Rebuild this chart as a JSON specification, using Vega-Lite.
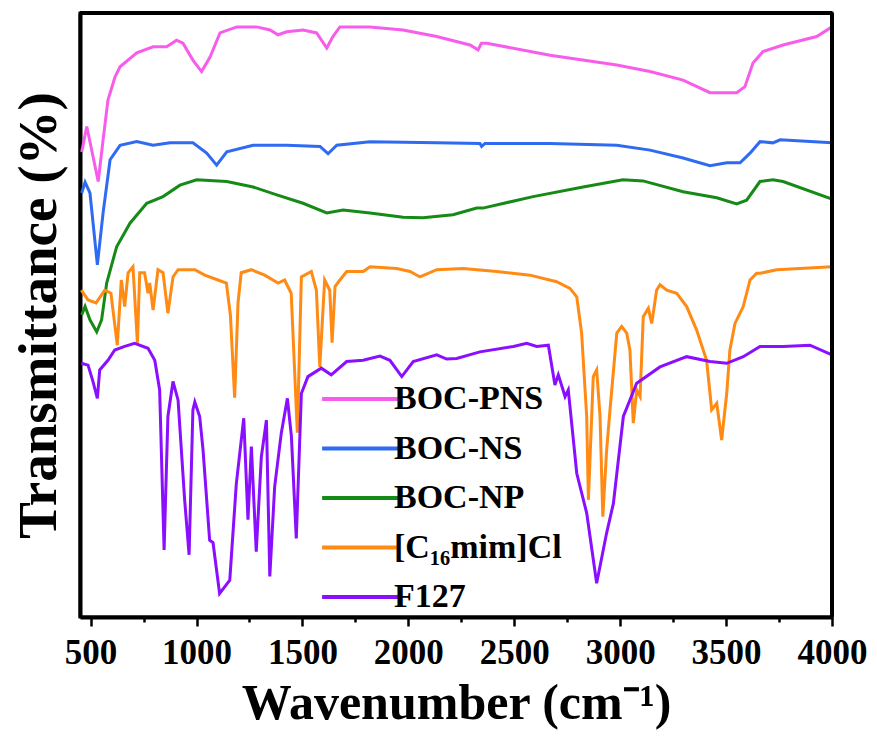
{
  "$schema": "https://vega.github.io/schema/vega-lite/v6.json",
  "width": 752,
  "height": 604,
  "autosize": "none",
  "padding": {"left": 80, "top": 13, "right": 45, "bottom": 123},
  "background": "white",
  "config": {
    "view": {"stroke": "black", "strokeWidth": 3},
    "font": "Liberation Serif"
  },
  "datasets": {
    "ftir": [
      {"s":"BOC-PNS","w":458,"t":77.0},{"s":"BOC-PNS","w":482,"t":81.2},{"s":"BOC-PNS","w":536,"t":72.1},{"s":"BOC-PNS","w":559,"t":79.0},{"s":"BOC-PNS","w":582,"t":85.6},{"s":"BOC-PNS","w":615,"t":89.4},{"s":"BOC-PNS","w":639,"t":91.1},{"s":"BOC-PNS","w":718,"t":93.4},{"s":"BOC-PNS","w":795,"t":94.4},{"s":"BOC-PNS","w":859,"t":94.4},{"s":"BOC-PNS","w":906,"t":95.5},{"s":"BOC-PNS","w":936,"t":95.0},{"s":"BOC-PNS","w":983,"t":92.2},{"s":"BOC-PNS","w":1024,"t":90.3},{"s":"BOC-PNS","w":1064,"t":92.7},{"s":"BOC-PNS","w":1111,"t":96.7},{"s":"BOC-PNS","w":1190,"t":97.7},{"s":"BOC-PNS","w":1284,"t":97.7},{"s":"BOC-PNS","w":1347,"t":97.2},{"s":"BOC-PNS","w":1385,"t":96.4},{"s":"BOC-PNS","w":1426,"t":96.9},{"s":"BOC-PNS","w":1503,"t":97.2},{"s":"BOC-PNS","w":1567,"t":96.7},{"s":"BOC-PNS","w":1615,"t":94.2},{"s":"BOC-PNS","w":1644,"t":96.1},{"s":"BOC-PNS","w":1677,"t":97.7},{"s":"BOC-PNS","w":1819,"t":97.7},{"s":"BOC-PNS","w":1975,"t":97.2},{"s":"BOC-PNS","w":2134,"t":96.1},{"s":"BOC-PNS","w":2291,"t":94.7},{"s":"BOC-PNS","w":2329,"t":93.9},{"s":"BOC-PNS","w":2345,"t":95.0},{"s":"BOC-PNS","w":2370,"t":95.0},{"s":"BOC-PNS","w":2669,"t":93.0},{"s":"BOC-PNS","w":2984,"t":91.4},{"s":"BOC-PNS","w":3141,"t":90.3},{"s":"BOC-PNS","w":3297,"t":88.9},{"s":"BOC-PNS","w":3424,"t":86.8},{"s":"BOC-PNS","w":3550,"t":86.8},{"s":"BOC-PNS","w":3589,"t":87.8},{"s":"BOC-PNS","w":3627,"t":91.7},{"s":"BOC-PNS","w":3674,"t":93.6},{"s":"BOC-PNS","w":3769,"t":94.7},{"s":"BOC-PNS","w":3928,"t":96.1},{"s":"BOC-PNS","w":4000,"t":97.7},

      {"s":"BOC-NS","w":458,"t":70.2},{"s":"BOC-NS","w":474,"t":72.0},{"s":"BOC-NS","w":497,"t":70.2},{"s":"BOC-NS","w":532,"t":58.3},{"s":"BOC-NS","w":559,"t":66.9},{"s":"BOC-NS","w":592,"t":75.7},{"s":"BOC-NS","w":639,"t":78.1},{"s":"BOC-NS","w":718,"t":78.7},{"s":"BOC-NS","w":795,"t":78.1},{"s":"BOC-NS","w":875,"t":78.5},{"s":"BOC-NS","w":983,"t":78.5},{"s":"BOC-NS","w":1048,"t":76.8},{"s":"BOC-NS","w":1095,"t":74.8},{"s":"BOC-NS","w":1143,"t":77.0},{"s":"BOC-NS","w":1267,"t":78.1},{"s":"BOC-NS","w":1426,"t":78.1},{"s":"BOC-NS","w":1583,"t":77.9},{"s":"BOC-NS","w":1621,"t":76.7},{"s":"BOC-NS","w":1662,"t":78.1},{"s":"BOC-NS","w":1819,"t":78.7},{"s":"BOC-NS","w":2134,"t":78.5},{"s":"BOC-NS","w":2338,"t":78.4},{"s":"BOC-NS","w":2346,"t":77.9},{"s":"BOC-NS","w":2362,"t":78.4},{"s":"BOC-NS","w":2669,"t":78.4},{"s":"BOC-NS","w":2984,"t":78.1},{"s":"BOC-NS","w":3141,"t":77.3},{"s":"BOC-NS","w":3297,"t":76.0},{"s":"BOC-NS","w":3424,"t":74.7},{"s":"BOC-NS","w":3503,"t":75.2},{"s":"BOC-NS","w":3566,"t":75.2},{"s":"BOC-NS","w":3613,"t":76.8},{"s":"BOC-NS","w":3660,"t":78.7},{"s":"BOC-NS","w":3721,"t":78.5},{"s":"BOC-NS","w":3755,"t":79.0},{"s":"BOC-NS","w":4000,"t":78.5},

      {"s":"BOC-NP","w":458,"t":50.0},{"s":"BOC-NP","w":474,"t":51.4},{"s":"BOC-NP","w":497,"t":49.2},{"s":"BOC-NP","w":529,"t":47.2},{"s":"BOC-NP","w":552,"t":49.2},{"s":"BOC-NP","w":576,"t":55.3},{"s":"BOC-NP","w":623,"t":61.3},{"s":"BOC-NP","w":686,"t":65.2},{"s":"BOC-NP","w":765,"t":68.5},{"s":"BOC-NP","w":842,"t":69.6},{"s":"BOC-NP","w":922,"t":71.5},{"s":"BOC-NP","w":1001,"t":72.4},{"s":"BOC-NP","w":1143,"t":72.1},{"s":"BOC-NP","w":1267,"t":71.2},{"s":"BOC-NP","w":1379,"t":69.9},{"s":"BOC-NP","w":1503,"t":68.5},{"s":"BOC-NP","w":1615,"t":66.9},{"s":"BOC-NP","w":1692,"t":67.4},{"s":"BOC-NP","w":1819,"t":66.9},{"s":"BOC-NP","w":1975,"t":66.2},{"s":"BOC-NP","w":2069,"t":66.1},{"s":"BOC-NP","w":2211,"t":66.6},{"s":"BOC-NP","w":2323,"t":67.7},{"s":"BOC-NP","w":2352,"t":67.7},{"s":"BOC-NP","w":2589,"t":69.6},{"s":"BOC-NP","w":2825,"t":71.2},{"s":"BOC-NP","w":3013,"t":72.4},{"s":"BOC-NP","w":3108,"t":72.2},{"s":"BOC-NP","w":3297,"t":70.4},{"s":"BOC-NP","w":3456,"t":69.4},{"s":"BOC-NP","w":3550,"t":68.4},{"s":"BOC-NP","w":3597,"t":69.0},{"s":"BOC-NP","w":3660,"t":72.1},{"s":"BOC-NP","w":3721,"t":72.4},{"s":"BOC-NP","w":3769,"t":72.1},{"s":"BOC-NP","w":4000,"t":69.2},

      {"s":"[C₁₆mim]Cl","w":456,"t":54.1},{"s":"[C₁₆mim]Cl","w":488,"t":52.5},{"s":"[C₁₆mim]Cl","w":526,"t":52.0},{"s":"[C₁₆mim]Cl","w":567,"t":54.1},{"s":"[C₁₆mim]Cl","w":596,"t":53.6},{"s":"[C₁₆mim]Cl","w":626,"t":45.0},{"s":"[C₁₆mim]Cl","w":645,"t":55.8},{"s":"[C₁₆mim]Cl","w":661,"t":51.4},{"s":"[C₁₆mim]Cl","w":677,"t":57.0},{"s":"[C₁₆mim]Cl","w":700,"t":58.0},{"s":"[C₁₆mim]Cl","w":721,"t":45.4},{"s":"[C₁₆mim]Cl","w":732,"t":57.0},{"s":"[C₁₆mim]Cl","w":755,"t":57.0},{"s":"[C₁₆mim]Cl","w":771,"t":53.6},{"s":"[C₁₆mim]Cl","w":779,"t":55.3},{"s":"[C₁₆mim]Cl","w":795,"t":50.8},{"s":"[C₁₆mim]Cl","w":818,"t":57.5},{"s":"[C₁₆mim]Cl","w":842,"t":57.0},{"s":"[C₁₆mim]Cl","w":865,"t":50.3},{"s":"[C₁₆mim]Cl","w":889,"t":56.3},{"s":"[C₁₆mim]Cl","w":913,"t":57.5},{"s":"[C₁₆mim]Cl","w":992,"t":57.5},{"s":"[C₁₆mim]Cl","w":1039,"t":56.6},{"s":"[C₁₆mim]Cl","w":1101,"t":55.8},{"s":"[C₁₆mim]Cl","w":1141,"t":55.3},{"s":"[C₁₆mim]Cl","w":1160,"t":50.0},{"s":"[C₁₆mim]Cl","w":1180,"t":36.3},{"s":"[C₁₆mim]Cl","w":1196,"t":52.0},{"s":"[C₁₆mim]Cl","w":1211,"t":57.0},{"s":"[C₁₆mim]Cl","w":1259,"t":57.5},{"s":"[C₁₆mim]Cl","w":1322,"t":56.6},{"s":"[C₁₆mim]Cl","w":1385,"t":55.3},{"s":"[C₁₆mim]Cl","w":1416,"t":55.8},{"s":"[C₁₆mim]Cl","w":1447,"t":53.6},{"s":"[C₁₆mim]Cl","w":1476,"t":30.5},{"s":"[C₁₆mim]Cl","w":1495,"t":56.3},{"s":"[C₁₆mim]Cl","w":1542,"t":57.2},{"s":"[C₁₆mim]Cl","w":1566,"t":54.1},{"s":"[C₁₆mim]Cl","w":1582,"t":41.4},{"s":"[C₁₆mim]Cl","w":1605,"t":55.8},{"s":"[C₁₆mim]Cl","w":1629,"t":54.1},{"s":"[C₁₆mim]Cl","w":1640,"t":45.4},{"s":"[C₁₆mim]Cl","w":1654,"t":54.7},{"s":"[C₁₆mim]Cl","w":1677,"t":55.8},{"s":"[C₁₆mim]Cl","w":1709,"t":57.2},{"s":"[C₁₆mim]Cl","w":1787,"t":57.2},{"s":"[C₁₆mim]Cl","w":1819,"t":58.0},{"s":"[C₁₆mim]Cl","w":1945,"t":57.7},{"s":"[C₁₆mim]Cl","w":2008,"t":57.2},{"s":"[C₁₆mim]Cl","w":2055,"t":56.3},{"s":"[C₁₆mim]Cl","w":2134,"t":57.5},{"s":"[C₁₆mim]Cl","w":2259,"t":57.7},{"s":"[C₁₆mim]Cl","w":2417,"t":57.2},{"s":"[C₁₆mim]Cl","w":2574,"t":56.6},{"s":"[C₁₆mim]Cl","w":2700,"t":55.5},{"s":"[C₁₆mim]Cl","w":2763,"t":54.4},{"s":"[C₁₆mim]Cl","w":2795,"t":53.0},{"s":"[C₁₆mim]Cl","w":2818,"t":47.0},{"s":"[C₁₆mim]Cl","w":2842,"t":33.2},{"s":"[C₁₆mim]Cl","w":2850,"t":19.4},{"s":"[C₁₆mim]Cl","w":2873,"t":39.8},{"s":"[C₁₆mim]Cl","w":2889,"t":40.9},{"s":"[C₁₆mim]Cl","w":2905,"t":33.2},{"s":"[C₁₆mim]Cl","w":2918,"t":16.6},{"s":"[C₁₆mim]Cl","w":2936,"t":27.6},{"s":"[C₁₆mim]Cl","w":2952,"t":34.3},{"s":"[C₁₆mim]Cl","w":2984,"t":47.0},{"s":"[C₁₆mim]Cl","w":3007,"t":48.1},{"s":"[C₁₆mim]Cl","w":3031,"t":47.0},{"s":"[C₁₆mim]Cl","w":3046,"t":44.2},{"s":"[C₁₆mim]Cl","w":3062,"t":32.1},{"s":"[C₁₆mim]Cl","w":3078,"t":37.6},{"s":"[C₁₆mim]Cl","w":3094,"t":36.5},{"s":"[C₁₆mim]Cl","w":3109,"t":49.7},{"s":"[C₁₆mim]Cl","w":3133,"t":51.1},{"s":"[C₁₆mim]Cl","w":3149,"t":48.6},{"s":"[C₁₆mim]Cl","w":3172,"t":54.1},{"s":"[C₁₆mim]Cl","w":3188,"t":55.0},{"s":"[C₁₆mim]Cl","w":3220,"t":54.1},{"s":"[C₁₆mim]Cl","w":3267,"t":53.6},{"s":"[C₁₆mim]Cl","w":3314,"t":51.4},{"s":"[C₁₆mim]Cl","w":3361,"t":47.5},{"s":"[C₁₆mim]Cl","w":3408,"t":42.5},{"s":"[C₁₆mim]Cl","w":3432,"t":34.3},{"s":"[C₁₆mim]Cl","w":3456,"t":35.4},{"s":"[C₁₆mim]Cl","w":3479,"t":29.3},{"s":"[C₁₆mim]Cl","w":3503,"t":37.0},{"s":"[C₁₆mim]Cl","w":3518,"t":44.2},{"s":"[C₁₆mim]Cl","w":3542,"t":48.6},{"s":"[C₁₆mim]Cl","w":3581,"t":51.4},{"s":"[C₁₆mim]Cl","w":3613,"t":55.8},{"s":"[C₁₆mim]Cl","w":3644,"t":56.9},{"s":"[C₁₆mim]Cl","w":3660,"t":56.9},{"s":"[C₁₆mim]Cl","w":3739,"t":57.5},{"s":"[C₁₆mim]Cl","w":4000,"t":58.0},

      {"s":"F127","w":456,"t":42.0},{"s":"F127","w":488,"t":41.7},{"s":"F127","w":511,"t":39.0},{"s":"F127","w":532,"t":36.2},{"s":"F127","w":543,"t":40.9},{"s":"F127","w":582,"t":42.5},{"s":"F127","w":614,"t":44.2},{"s":"F127","w":661,"t":44.8},{"s":"F127","w":708,"t":45.3},{"s":"F127","w":771,"t":44.5},{"s":"F127","w":803,"t":42.5},{"s":"F127","w":826,"t":37.6},{"s":"F127","w":847,"t":11.1},{"s":"F127","w":865,"t":33.2},{"s":"F127","w":889,"t":39.0},{"s":"F127","w":913,"t":35.9},{"s":"F127","w":944,"t":19.4},{"s":"F127","w":965,"t":10.3},{"s":"F127","w":983,"t":34.3},{"s":"F127","w":992,"t":35.6},{"s":"F127","w":1015,"t":33.2},{"s":"F127","w":1031,"t":27.6},{"s":"F127","w":1062,"t":12.7},{"s":"F127","w":1078,"t":12.3},{"s":"F127","w":1109,"t":3.9},{"s":"F127","w":1133,"t":5.0},{"s":"F127","w":1157,"t":6.1},{"s":"F127","w":1188,"t":22.1},{"s":"F127","w":1223,"t":32.9},{"s":"F127","w":1243,"t":16.1},{"s":"F127","w":1259,"t":28.2},{"s":"F127","w":1282,"t":10.8},{"s":"F127","w":1306,"t":26.5},{"s":"F127","w":1330,"t":32.6},{"s":"F127","w":1346,"t":6.7},{"s":"F127","w":1369,"t":21.6},{"s":"F127","w":1400,"t":30.4},{"s":"F127","w":1429,"t":36.2},{"s":"F127","w":1448,"t":29.9},{"s":"F127","w":1471,"t":13.0},{"s":"F127","w":1495,"t":37.0},{"s":"F127","w":1526,"t":39.8},{"s":"F127","w":1589,"t":41.2},{"s":"F127","w":1636,"t":40.1},{"s":"F127","w":1709,"t":42.3},{"s":"F127","w":1787,"t":42.5},{"s":"F127","w":1866,"t":43.2},{"s":"F127","w":1913,"t":42.5},{"s":"F127","w":1969,"t":39.8},{"s":"F127","w":2023,"t":42.3},{"s":"F127","w":2134,"t":43.4},{"s":"F127","w":2181,"t":42.7},{"s":"F127","w":2228,"t":42.8},{"s":"F127","w":2338,"t":43.9},{"s":"F127","w":2496,"t":44.8},{"s":"F127","w":2559,"t":45.3},{"s":"F127","w":2606,"t":44.8},{"s":"F127","w":2661,"t":45.0},{"s":"F127","w":2692,"t":38.4},{"s":"F127","w":2708,"t":40.1},{"s":"F127","w":2740,"t":36.5},{"s":"F127","w":2755,"t":37.6},{"s":"F127","w":2795,"t":23.8},{"s":"F127","w":2842,"t":17.2},{"s":"F127","w":2889,"t":5.6},{"s":"F127","w":2936,"t":13.9},{"s":"F127","w":2968,"t":18.8},{"s":"F127","w":3015,"t":33.2},{"s":"F127","w":3078,"t":38.7},{"s":"F127","w":3188,"t":41.4},{"s":"F127","w":3314,"t":43.1},{"s":"F127","w":3424,"t":42.3},{"s":"F127","w":3503,"t":42.0},{"s":"F127","w":3581,"t":43.1},{"s":"F127","w":3660,"t":44.8},{"s":"F127","w":3770,"t":44.8},{"s":"F127","w":3896,"t":45.0},{"s":"F127","w":4000,"t":43.4}
    ],
    "frame": [{"x0": 450, "x1": 4000, "y0": 0, "y1": 100}]
  },
  "layer": [
    {
      "data": {"name": "ftir"},
      "mark": {"type": "line", "strokeWidth": 3, "clip": true, "interpolate": "linear"},
      "encoding": {
        "x": {
          "field": "w", "type": "quantitative",
          "scale": {"domain": [450, 4000], "nice": false, "zero": false},
          "axis": {
            "values": [500, 750, 1000, 1250, 1500, 1750, 2000, 2250, 2500, 2750, 3000, 3250, 3500, 3750, 4000],
            "labelExpr": "datum.value % 500 === 0 ? datum.label : ''",
            "format": "d",
            "tickSize": {"expr": "datum.value % 500 === 0 ? 9 : 5"},
            "tickWidth": 2.5, "tickColor": "black",
            "domain": true, "domainColor": "black", "domainWidth": 4,
            "grid": false,
            "labelFont": "Liberation Serif", "labelFontWeight": "bold", "labelFontSize": 35, "labelColor": "black",
            "labelPadding": 9, "labelFlush": false, "labelOverlap": false,
            "title": "Wavenumber (cm⁻¹)",
            "titleFont": "Liberation Serif", "titleFontWeight": "bold", "titleFontSize": 50, "titleColor": "black",
            "titlePadding": 8
          }
        },
        "y": {
          "field": "t", "type": "quantitative",
          "scale": {"domain": [0, 100], "nice": false},
          "axis": {
            "labels": false, "ticks": false, "domain": true, "domainColor": "black", "domainWidth": 4, "grid": false,
            "title": "Transmittance (%)",
            "titleFont": "Liberation Serif", "titleFontWeight": "bold", "titleFontSize": 55, "titleColor": "black",
            "titlePadding": 13
          }
        },
        "color": {
          "field": "s", "type": "nominal",
          "scale": {
            "domain": ["BOC-PNS", "BOC-NS", "BOC-NP", "[C₁₆mim]Cl", "F127"],
            "range": ["#F75CEB", "#2F6BF2", "#168A16", "#FF8A14", "#8A0FFF"]
          },
          "legend": {
            "orient": "none", "legendX": 259, "legendY": 365, "direction": "vertical",
            "title": null,
            "symbolType": "M-2,0H2", "symbolSize": 1436, "symbolStrokeWidth": 4,
            "labelFont": "Liberation Serif", "labelFontWeight": "bold", "labelFontSize": 34, "labelColor": "black",
            "labelOffset": 13, "rowPadding": 11.5, "labelLimit": 400
          }
        }
      }
    },
    {
      "data": {"name": "frame"},
      "mark": {"type": "rule", "color": "black", "strokeWidth": 4},
      "encoding": {
        "x": {"field": "x0", "type": "quantitative"},
        "x2": {"field": "x1"},
        "y": {"field": "y1", "type": "quantitative"}
      }
    },
    {
      "data": {"name": "frame"},
      "mark": {"type": "rule", "color": "black", "strokeWidth": 4},
      "encoding": {"x": {"field": "x1", "type": "quantitative"}, "y": {"field": "y0", "type": "quantitative"}, "y2": {"field": "y1"}}
    }
  ]
}
